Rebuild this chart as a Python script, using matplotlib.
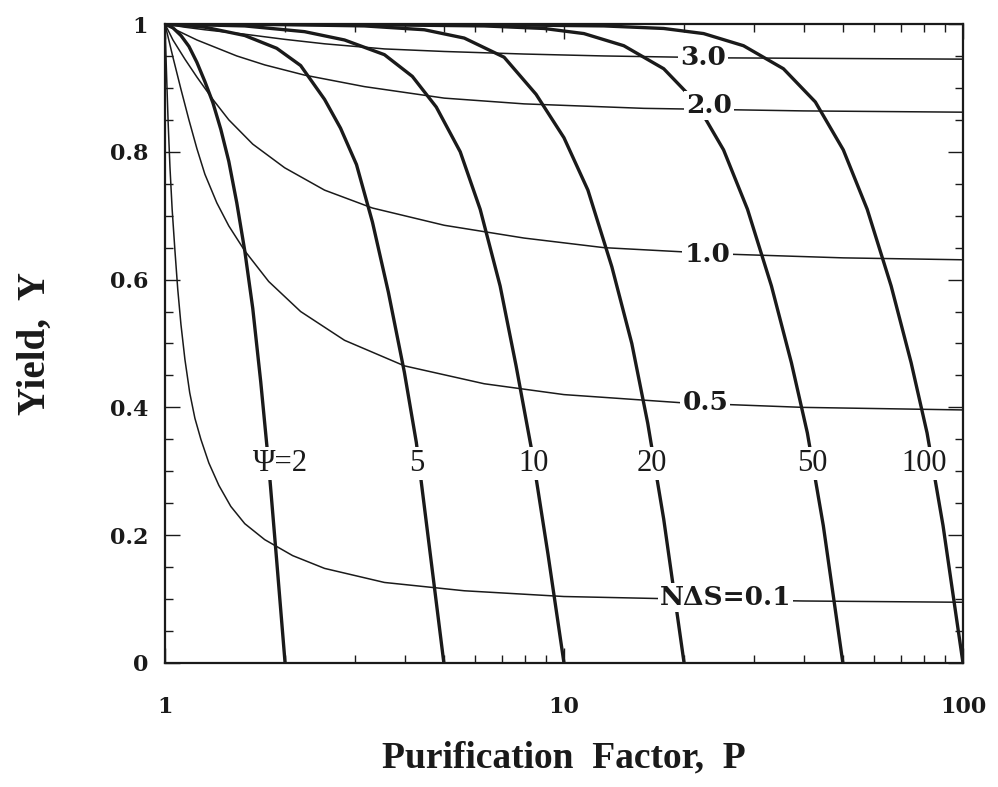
import matplotlib
matplotlib.use("Agg")
import matplotlib.pyplot as plt
from matplotlib.ticker import FixedLocator, NullFormatter, FixedFormatter

# ---- iso-NΔS curves (thin): purification factor P and yield Y ----
nds_names = ["NΔS=0.1", "0.5", "1.0", "2.0", "3.0"]

nds01_p = [1.0, 1.0093, 1.0186, 1.0292, 1.0423, 1.0593, 1.0765, 1.0965,
           1.1220, 1.1535, 1.1885, 1.2303, 1.2882, 1.3646, 1.4622, 1.5849,
           1.7783, 2.0893, 2.5119, 3.5481, 5.6234, 10.0, 19.953, 39.811,
           100.0]
nds01_y = [1.0, 0.92, 0.845, 0.776, 0.71, 0.645, 0.585, 0.53, 0.475, 0.423,
           0.383, 0.35, 0.313, 0.278, 0.245, 0.218, 0.193, 0.168, 0.148,
           0.126, 0.113, 0.104, 0.100, 0.097, 0.095]

nds05_p = [1.0, 1.0471, 1.0965, 1.1482, 1.2023, 1.2589, 1.3490, 1.4454,
           1.5849, 1.8197, 2.1878, 2.8184, 3.9811, 6.3096, 10.0, 19.953,
           39.811, 100.0]
nds05_y = [1.0, 0.948, 0.898, 0.85, 0.805, 0.765, 0.72, 0.684, 0.645, 0.597,
           0.55, 0.505, 0.465, 0.437, 0.42, 0.407, 0.400, 0.396]

nds10_p = [1.0, 1.0471, 1.1220, 1.2023, 1.3183, 1.4454, 1.6596, 1.9953,
           2.5119, 3.3113, 5.0119, 7.9433, 12.589, 25.119, 50.119, 100.0]
nds10_y = [1.0, 0.975, 0.945, 0.917, 0.882, 0.85, 0.812, 0.775, 0.74, 0.712,
           0.685, 0.665, 0.65, 0.64, 0.634, 0.631]

nds20_p = [1.0, 1.0471, 1.1220, 1.2023, 1.3183, 1.5136, 1.7783, 2.2387,
           3.1623, 5.0119, 7.9433, 15.849, 39.811, 100.0]
nds20_y = [1.0, 0.993, 0.984, 0.975, 0.965, 0.95, 0.936, 0.92, 0.902, 0.884,
           0.875, 0.868, 0.864, 0.862]

nds30_p = [1.0, 1.1220, 1.2589, 1.5849, 1.9953, 2.5119, 3.5481, 5.0119,
           7.9433, 12.589, 25.119, 50.119, 100.0]
nds30_y = [1.0, 0.995, 0.991, 0.984, 0.976, 0.969, 0.961, 0.957, 0.953,
           0.950, 0.947, 0.946, 0.945]

nds_label_p = [25.4, 22.6, 22.9, 23.1, 22.3]
nds_label_y = [0.103, 0.407, 0.639, 0.873, 0.948]

# ---- iso-Ψ curves (thick) ----
psi_names = ["Ψ=2", "5", "10", "20", "50", "100"]

psi2_p = [1.0, 1.0471, 1.0965, 1.1482, 1.2023, 1.2589, 1.3183, 1.3804,
          1.4454, 1.5136, 1.5849, 1.6596, 1.7378, 1.8197, 1.9055, 2.0]
psi2_y = [1.0, 0.994, 0.982, 0.965, 0.94, 0.91, 0.877, 0.835, 0.785, 0.72,
          0.645, 0.555, 0.44, 0.31, 0.16, 0.0]

psi5_p = [1.0, 1.2589, 1.5849, 1.9055, 2.1878, 2.5119, 2.7542, 3.0200,
          3.3113, 3.6308, 3.9811, 4.2658, 4.5709, 5.0]
psi5_y = [1.0, 0.995, 0.982, 0.962, 0.935, 0.882, 0.837, 0.78, 0.69, 0.58,
          0.455, 0.345, 0.195, 0.0]

psi10_p = [1.0, 1.5849, 2.2387, 2.8184, 3.5481, 4.1687, 4.7863, 5.4954,
           6.1660, 6.9183, 7.5858, 8.3176, 9.1201, 10.0]
psi10_y = [1.0, 0.997, 0.988, 0.975, 0.952, 0.918, 0.87, 0.80, 0.71, 0.59,
           0.465, 0.33, 0.17, 0.0]

psi20_p = [1.0, 1.9953, 3.1623, 4.4668, 5.6234, 7.0795, 8.5114, 10.0,
           11.482, 13.183, 14.791, 16.218, 17.783, 20.0]
psi20_y = [1.0, 0.999, 0.997, 0.991, 0.978, 0.948, 0.89, 0.822, 0.74, 0.62,
           0.5, 0.375, 0.225, 0.0]

psi50_p = [1.0, 3.1623, 6.3096, 8.9125, 11.220, 14.125, 17.783, 21.380,
           25.119, 28.840, 33.113, 37.154, 40.738, 44.668, 50.0]
psi50_y = [1.0, 0.999, 0.997, 0.993, 0.985, 0.966, 0.93, 0.878, 0.803, 0.71,
           0.59, 0.47, 0.36, 0.215, 0.0]

psi100_p = [1.0, 6.3096, 12.589, 17.783, 22.387, 28.184, 35.481, 42.658,
            50.119, 57.544, 66.069, 74.131, 81.283, 89.125, 100.0]
psi100_y = [1.0, 0.999, 0.997, 0.993, 0.985, 0.966, 0.93, 0.878, 0.803,
            0.71, 0.59, 0.47, 0.36, 0.215, 0.0]

psi_label_p = [1.95, 4.28, 8.4, 16.6, 41.9, 80.0]
psi_label_y = [0.312, 0.312, 0.312, 0.312, 0.312, 0.312]

# ---- axis ticks ----
x_major = [1, 10, 100]
x_major_labels = ["1", "10", "100"]
x_minor = [2, 3, 4, 5, 6, 7, 8, 9, 20, 30, 40, 50, 60, 70, 80, 90]
y_major = [0, 0.2, 0.4, 0.6, 0.8, 1.0]
y_major_labels = ["0", "0.2", "0.4", "0.6", "0.8", "1"]
y_minor = [0.05, 0.1, 0.15, 0.25, 0.3, 0.35, 0.45, 0.5, 0.55, 0.65, 0.7,
           0.75, 0.85, 0.9, 0.95]

serif = "Liberation Serif"
wide_serif = "DejaVu Serif"
ink = "#1a1a1a"

fig = plt.figure(figsize=(9.98, 7.87), dpi=100)
ax = fig.add_axes([0.1653, 0.1576, 0.7996, 0.8119])
ax.set_xscale("log")
ax.set_xlim(1, 100)
ax.set_ylim(0, 1)

nds_curves = [(nds01_p, nds01_y), (nds05_p, nds05_y), (nds10_p, nds10_y),
              (nds20_p, nds20_y), (nds30_p, nds30_y)]
for p, y in nds_curves:
    ax.plot(p, y, color=ink, lw=1.1, zorder=2, solid_joinstyle="round")

psi_curves = [(psi2_p, psi2_y), (psi5_p, psi5_y), (psi10_p, psi10_y),
              (psi20_p, psi20_y), (psi50_p, psi50_y), (psi100_p, psi100_y)]
for p, y in psi_curves:
    ax.plot(p, y, color=ink, lw=2.4, zorder=3, solid_joinstyle="round",
            solid_capstyle="butt")

box = dict(facecolor="white", edgecolor="none", pad=1.5)
for name, px, py in zip(nds_names, nds_label_p, nds_label_y):
    ax.text(px, py, name, ha="center", va="center", fontsize=19,
            fontweight="bold", family=wide_serif, color=ink, bbox=box,
            zorder=5)
for name, px, py in zip(psi_names, psi_label_p, psi_label_y):
    ax.text(px, py, name, ha="center", va="center", fontsize=22,
            family=serif, color=ink, bbox=box, zorder=5)

ax.xaxis.set_major_locator(FixedLocator(x_major))
ax.xaxis.set_major_formatter(FixedFormatter(x_major_labels))
ax.xaxis.set_minor_locator(FixedLocator(x_minor))
ax.xaxis.set_minor_formatter(NullFormatter())
ax.yaxis.set_major_locator(FixedLocator(y_major))
ax.yaxis.set_major_formatter(FixedFormatter(y_major_labels))
ax.yaxis.set_minor_locator(FixedLocator(y_minor))

ax.tick_params(which="both", direction="in", top=True, right=True,
               color=ink, width=1.0)
ax.tick_params(which="major", length=11)
ax.tick_params(which="minor", length=6)
ax.tick_params(axis="x", which="major", pad=24)
ax.tick_params(axis="y", which="major", pad=12)
for lab in ax.get_xticklabels() + ax.get_yticklabels():
    lab.set_family(wide_serif)
    lab.set_fontweight("bold")
    lab.set_fontsize(16)
    lab.set_color(ink)

for s in ax.spines.values():
    s.set_linewidth(1.6)
    s.set_color(ink)

ax.set_xlabel("Purification  Factor,  P", family=serif, fontweight="bold",
              fontsize=27, color=ink, labelpad=16)
ax.set_ylabel("Yield,  Y", family=serif, fontweight="bold", fontsize=28,
              color=ink, labelpad=40)

fig.savefig("out.png", dpi=100)
